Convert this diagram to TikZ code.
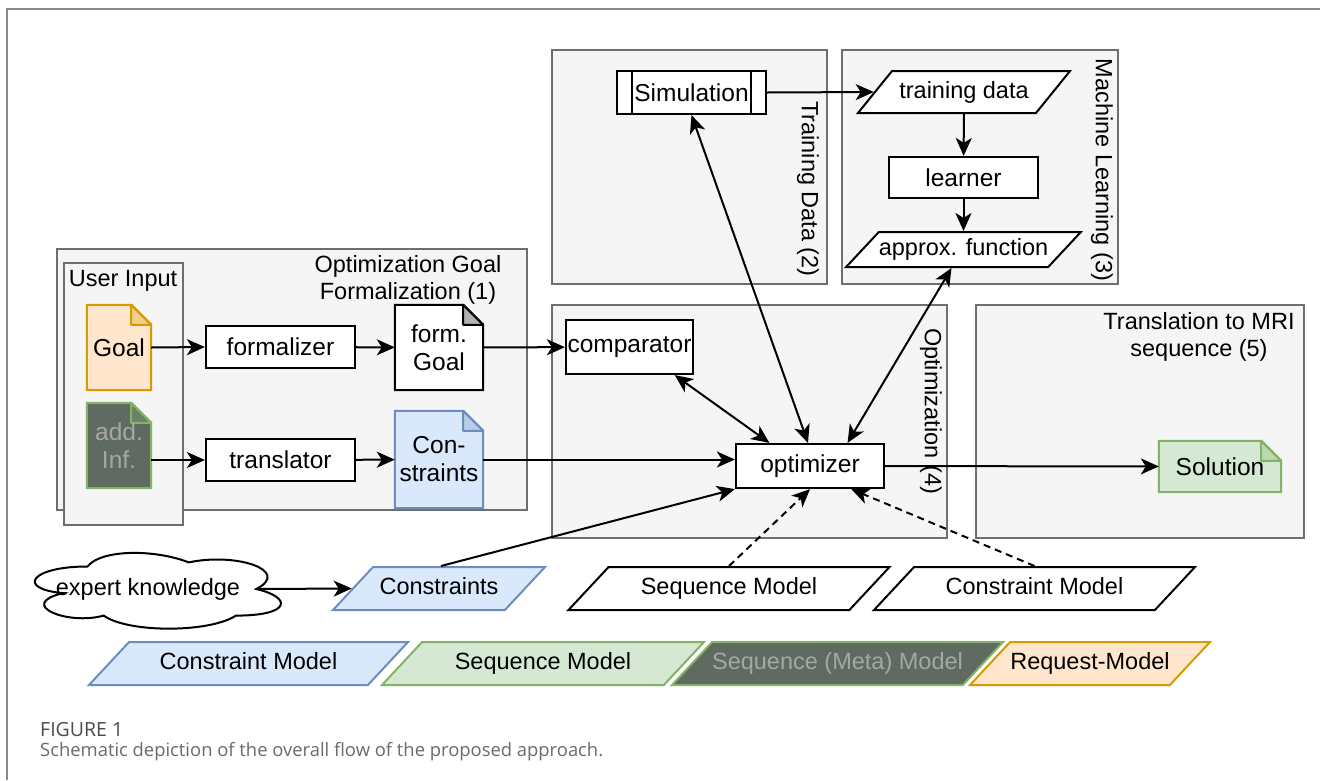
\documentclass[tikz,border=0pt]{standalone}
\usepackage{fontspec}
\setmainfont{Liberation Sans}
\newfontfamily\capfont{Open Sans}
\usetikzlibrary{shapes.geometric, arrows.meta, calc}
\definecolor{grpfill}{HTML}{F5F5F5}
\definecolor{grpline}{HTML}{6E6E6E}
\definecolor{framegray}{HTML}{8A8A8A}
\definecolor{bluefill}{HTML}{DAE8FC}
\definecolor{blueline}{HTML}{6C8EBF}
\definecolor{greenfill}{HTML}{D5E8D4}
\definecolor{greenline}{HTML}{82B366}
\definecolor{orangefill}{HTML}{FFE6CC}
\definecolor{orangeline}{HTML}{D79B00}
\definecolor{darkfill}{HTML}{5F6B61}
\definecolor{darktext}{HTML}{A6A6A6}
\definecolor{capdark}{HTML}{4A4A4A}
\definecolor{captext}{HTML}{6A6A6A}
\pgfdeclarelayer{back}
\pgfdeclarelayer{notes}
\pgfsetlayers{back,notes,main}
% dog-eared note drawn behind a named node: node, fill, line
\newcommand{\notedraw}[3]{%
    \begin{pgfonlayer}{notes}
        \filldraw[fill=#2, draw=#3, line width=2pt, line join=miter]
            (#1.north west) -- ([xshift=-20pt]#1.north east)
            -- ([yshift=-20pt]#1.north east) -- (#1.south east)
            -- (#1.south west) -- cycle;
        \filldraw[fill=#3!30!#2, draw=#3, line width=2pt, line join=round]
            ([xshift=-20pt]#1.north east)
            -- ([xshift=-20pt, yshift=-20pt]#1.north east)
            -- ([yshift=-20pt]#1.north east) -- cycle;
    \end{pgfonlayer}}
\tikzset{
    grp/.style={fill=grpfill, draw=grpline, line width=2pt},
    plainbox/.style={draw, fill=white, line width=2.2pt, minimum width=149pt,
        minimum height=42pt, inner sep=0pt, font=\fontsize{24.5}{28}\selectfont},
    notebox/.style={minimum width=64pt, minimum height=85pt, inner sep=0pt,
        align=center, font=\fontsize{24.5}{28}\selectfont},
    procbox/.style={plainbox, path picture={
        \draw[line width=2pt]
            ([xshift=15pt]path picture bounding box.north west)
            -- ([xshift=15pt]path picture bounding box.south west);
        \draw[line width=2pt]
            ([xshift=-15pt]path picture bounding box.north east)
            -- ([xshift=-15pt]path picture bounding box.south east);}},
    slant/.style={trapezium, trapezium left angle=47,
        trapezium right angle=133, trapezium stretches body, draw,
        fill=white, line width=2pt, text height=17pt, text depth=5pt,
        inner xsep=0pt, inner ysep=10.5pt},
    conn/.style={line width=2pt, -{Stealth[length=18pt, width=16pt, inset=5pt]}},
    dconn/.style={line width=2pt,
        {Stealth[length=18pt, width=16pt, inset=5pt]}-{Stealth[length=18pt, width=16pt, inset=5pt]}},
    dashconn/.style={conn, dash pattern=on 7pt off 5pt},
}

\begin{document}
\begin{tikzpicture}[x=1pt, y=-1pt, font=\fontsize{23.5}{27}\selectfont]
    \useasboundingbox (0,0) rectangle (1320,780);
    \begin{pgfonlayer}{back}
        \draw[framegray, line width=2pt] (7,780) -- (7,9) -- (1320,9);
        \draw[grp] (57,249) rectangle (527,510);
        \draw[grp] (64,263) rectangle (183,525);
        \draw[grp] (552,50) rectangle (827,284);
        \draw[grp] (842,50) rectangle (1118,284);
        \draw[grp] (552,305) rectangle (947,538);
        \draw[grp] (976,305) rectangle (1304,538);
        % expert knowledge cloud
        \draw[line width=2pt, fill=white] (87.5,566.5)
            .. controls (30,566.5) and (16,589) .. (63.2,593.1)
            .. controls (16,604.1) and (66.6,625.8) .. (103.7,615.6)
            .. controls (128,633) and (209,633) .. (236,615.6)
            .. controls (292,615.6) and (292,597.2) .. (256.3,589)
            .. controls (292,570.6) and (236,552.2) .. (188.8,562.4)
            .. controls (155,549.1) and (101,549.1) .. (87.5,566.5) -- cycle;
    \end{pgfonlayer}
    \coordinate (cloudtip) at (256.3,589);
    \node[align=center] (goaltitle) at (408,279.5)
        {Optimization Goal\\Formalization (1)};
    \node (usertitle) at (123,281) {User Input};
    \node[rotate=-90] (traintitle) at (808,189) {Training Data (2)};
    \node[rotate=-90] (mltitle) at (1102,170) {Machine Learning (3)};
    \node[rotate=-90] (opttitle) at (931,411) {Optimization (4)};
    \node[align=center] (mrititle) at (1199,337)
        {Translation to MRI\\sequence (5)};

    % goal formalization
    \node[notebox] (goal) at (119,347.5) {Goal};
    \node[notebox, text=darktext] (addinf) at (119,445.5) {add.\\Inf.};
    \node[plainbox] (formalizer) at (280.5,347) {formalizer};
    \node[plainbox] (translator) at (280.5,460) {translator};
    \node[notebox, minimum width=88pt] (formgoal) at (439,347.5)
        {form.\\Goal};
    \node[notebox, minimum width=88pt, minimum height=97pt] (connote)
        at (439,459.5) {Con-\\straints};
    \notedraw{goal}{orangefill}{orangeline}
    \notedraw{addinf}{darkfill}{greenline}
    \notedraw{formgoal}{white}{black}
    \notedraw{connote}{bluefill}{blueline}

    % training data and learning
    \node[procbox, minimum height=43pt] (simulation) at (691.5,92.5)
        {Simulation};
    \node[slant, trapezium left angle=51, trapezium right angle=129,
        inner ysep=10pt, minimum width=212pt] (traindata) at (964,92)
        {training data};
    \node[plainbox, minimum height=41pt] (learner) at (963.5,177.5)
        {learner};
    \node[slant, inner ysep=6.5pt, minimum width=231pt] (approx)
        at (963.5,249.5) {approx. function};

    % optimization and translation
    \node[plainbox, minimum width=127pt, minimum height=54pt] (comparator)
        at (629.5,347) {comparator};
    \node[plainbox, minimum width=148pt, minimum height=44pt] (optimizer)
        at (810,466) {optimizer};
    \node[notebox, minimum width=122pt, minimum height=51pt] (solution)
        at (1220,466.5) {Solution};
    \notedraw{solution}{greenfill}{greenline}

    % models
    \node (expert) at (148,589) {expert knowledge};
    \node[slant, fill=bluefill, draw=blueline, minimum width=212pt]
        (constraints) at (439,588.5) {Constraints};
    \node[slant, minimum width=321pt] (seqmodel) at (729,588.5)
        {Sequence Model};
    \node[slant, minimum width=321pt] (consmodel) at (1034.5,588.5)
        {Constraint Model};

    % legend
    \node[slant, fill=bluefill, draw=blueline, minimum width=319pt]
        (legcons) at (248.5,663.5) {Constraint Model};
    \node[slant, fill=greenfill, draw=greenline, minimum width=322pt]
        (legseq) at (543,663.5) {Sequence Model};
    \node[slant, fill=darkfill, draw=greenline, text=darktext,
        minimum width=325pt] (legmeta) at (837.5,663.5)
        {Sequence (Meta) Model};
    \node[slant, fill=orangefill, draw=orangeline, minimum width=240pt]
        (legreq) at (1090,663.5) {Request-Model};

    % connectors
    \draw[conn] (goal.east) -- (formalizer.west);
    \draw[conn] (formalizer) -- (formgoal);
    \draw[conn] (addinf.east |- translator.west) -- (translator.west);
    \draw[conn] (translator) -- (connote);
    \draw[conn] (formgoal) -- (comparator);
    \draw[conn] (connote.east) -- (connote.east -| optimizer.west);
    \draw[conn] ([xshift=2pt]constraints.north) -- (optimizer.south west);
    \draw[dconn] (simulation.south) -- ([xshift=-2pt]optimizer.north);
    \draw[dconn] ([xshift=-12pt]approx.south)
        -- ($(optimizer.north)!0.5!(optimizer.north east)$);
    \draw[dconn] ($(comparator.south)!0.7!(comparator.south east)$)
        -- ($(optimizer.north west)!0.23!(optimizer.north east)$);
    \draw[conn] (optimizer) -- (solution);
    \draw[conn] (simulation.east) -- (traindata.west);
    \draw[conn] (traindata) -- (learner);
    \draw[conn] (learner) -- (approx);
    \draw[dashconn] (seqmodel.north) -- (optimizer.south);
    \draw[dashconn] (consmodel.north)
        -- ($(optimizer.south)!0.55!(optimizer.south east)$);
    \draw[conn] (cloudtip) -- (constraints.west);

    % caption
    \node[anchor=west, inner sep=0pt, text=capdark,
        font=\capfont\fontsize{19.5}{22}\selectfont] (figlabel) at (40,730)
        {FIGURE 1};
    \node[anchor=west, inner sep=0pt, text=captext,
        font=\capfont\fontsize{18.4}{22}\selectfont] (caption) at (40,752)
        {Schematic depiction of the overall flow of the proposed approach.};
\end{tikzpicture}
\end{document}
